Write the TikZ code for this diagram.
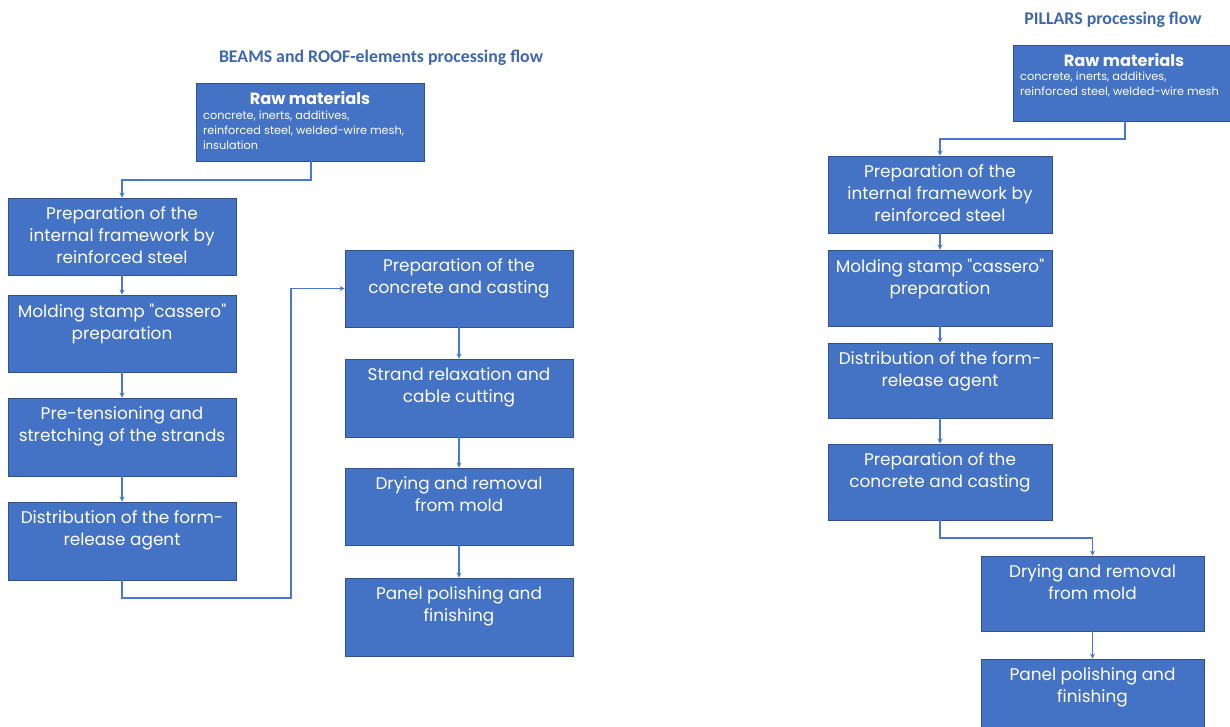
\documentclass[tikz,border=0pt]{standalone}
\usepackage{fontspec}
\setmainfont{Poppins}[Ligatures=TeXOff]
\newfontfamily\titlefont{Carlito}
\usetikzlibrary{arrows.meta}
\definecolor{boxblue}{HTML}{4472C4}
\definecolor{boxedge}{HTML}{2F528F}
\definecolor{linkblue}{HTML}{4A78D0}
\tikzset{
  stepbox/.style={draw=boxedge, line width=0.9pt, fill=boxblue, inner sep=0pt},
  steptext/.style={anchor=north, text=white, align=center, font=\fontsize{16.9}{22}\selectfont, inner sep=0pt, yshift=-9pt},
  rawhead/.style={anchor=north, text=white, font=\bfseries\fontsize{16.2}{18}\selectfont, inner sep=0pt, yshift=-8.5pt},
  rawbody/.style={anchor=north west, text=white, align=left, font=\fontsize{11.3}{15}\selectfont, inner sep=0pt},
  heading/.style={text=boxblue!90!black, font=\titlefont\bfseries\fontsize{17.8}{20}\selectfont, inner sep=0pt},
  link/.style={draw=linkblue, line width=1.4pt, -{Stealth[length=5pt,width=5pt]}},
}
\begin{document}
\begin{tikzpicture}[x=1pt,y=-1pt]
\useasboundingbox (0,0) rectangle (1230,727);
% ---------- left flow ----------
\node[heading] (tl) at (381,58) {BEAMS and ROOF-elements processing flow};
\node[stepbox, minimum width=228pt, minimum height=78pt] (rawl) at (310,122) {};
\node[rawhead] (rawlh) at (rawl.north) {Raw materials};
\node[rawbody] (rawlb) at (203,110.5) {concrete, inerts, additives,\\reinforced steel, welded-wire mesh,\\insulation};

\node[stepbox, minimum width=228pt, minimum height=77pt] (b1) at (122,236.5) {};
\node[steptext] (b1t) at (b1.north) {Preparation of the\\internal framework by\\reinforced steel};
\node[stepbox, minimum width=228pt, minimum height=77pt] (b2) at (122,333.5) {};
\node[steptext] (b2t) at (b2.north) {Molding stamp "cassero"\\preparation};
\node[stepbox, minimum width=228pt, minimum height=78pt] (b3) at (122,437) {};
\node[steptext] (b3t) at (b3.north) {Pre-tensioning and\\stretching of the strands};
\node[stepbox, minimum width=228pt, minimum height=78pt] (b4) at (122,541) {};
\node[steptext] (b4t) at (b4.north) {Distribution of the form-\\release agent};

\node[stepbox, minimum width=228pt, minimum height=77pt] (c1) at (459,288.5) {};
\node[steptext] (c1t) at (c1.north) {Preparation of the\\concrete and casting};
\node[stepbox, minimum width=228pt, minimum height=78pt] (c2) at (459,398) {};
\node[steptext] (c2t) at (c2.north) {Strand relaxation and\\cable cutting};
\node[stepbox, minimum width=228pt, minimum height=77pt] (c3) at (459,506.5) {};
\node[steptext] (c3t) at (c3.north) {Drying and removal\\from mold};
\node[stepbox, minimum width=228pt, minimum height=78pt] (c4) at (459,617) {};
\node[steptext] (c4t) at (c4.north) {Panel polishing and\\finishing};

\coordinate (j1) at (311,180);
\draw[link] (rawl.south -| j1) -- (j1) -| (b1.north);
\draw[link] (b1) -- (b2);
\draw[link] (b2) -- (b3);
\draw[link] (b3) -- (b4);
\coordinate (j2) at (291,598);
\draw[link] (b4.south) |- (j2) |- (c1.west);
\draw[link] (c1) -- (c2);
\draw[link] (c2) -- (c3);
\draw[link] (c3) -- (c4);

% ---------- right flow ----------
\node[heading] (tr) at (1113,20) {PILLARS processing flow};
\node[stepbox, minimum width=220pt, minimum height=76pt] (rawr) at (1123,83) {};
\node[rawhead] (rawrh) at (1124,45) {Raw materials};
\node[rawbody] (rawrb) at (1020,72) {concrete, inerts, additives,\\reinforced steel, welded-wire mesh};

\node[stepbox, minimum width=224pt, minimum height=77pt] (d1) at (940,194.5) {};
\node[steptext] (d1t) at (d1.north) {Preparation of the\\internal framework by\\reinforced steel};
\node[stepbox, minimum width=224pt, minimum height=76pt] (d2) at (940,288) {};
\node[steptext] (d2t) at (d2.north) {Molding stamp "cassero"\\preparation};
\node[stepbox, minimum width=224pt, minimum height=75pt] (d3) at (940,380.5) {};
\node[steptext] (d3t) at (d3.north) {Distribution of the form-\\release agent};
\node[stepbox, minimum width=224pt, minimum height=76pt] (d4) at (940,482) {};
\node[steptext] (d4t) at (d4.north) {Preparation of the\\concrete and casting};
\node[stepbox, minimum width=223pt, minimum height=75pt] (e1) at (1092.5,593.5) {};
\node[steptext] (e1t) at (e1.north) {Drying and removal\\from mold};
\node[stepbox, minimum width=223pt, minimum height=80pt] (e2) at (1092.5,699) {};
\node[steptext] (e2t) at (e2.north) {Panel polishing and\\finishing};

\coordinate (k1) at (1125,139);
\draw[link] (rawr.south -| k1) -- (k1) -| (d1.north);
\draw[link] (d1) -- (d2);
\draw[link] (d2) -- (d3);
\draw[link] (d3) -- (d4);
\coordinate (k2) at (940,538);
\draw[link] (d4.south) -- (k2) -| (e1.north);
\draw[link] (e1) -- (e2);
\end{tikzpicture}
\end{document}
